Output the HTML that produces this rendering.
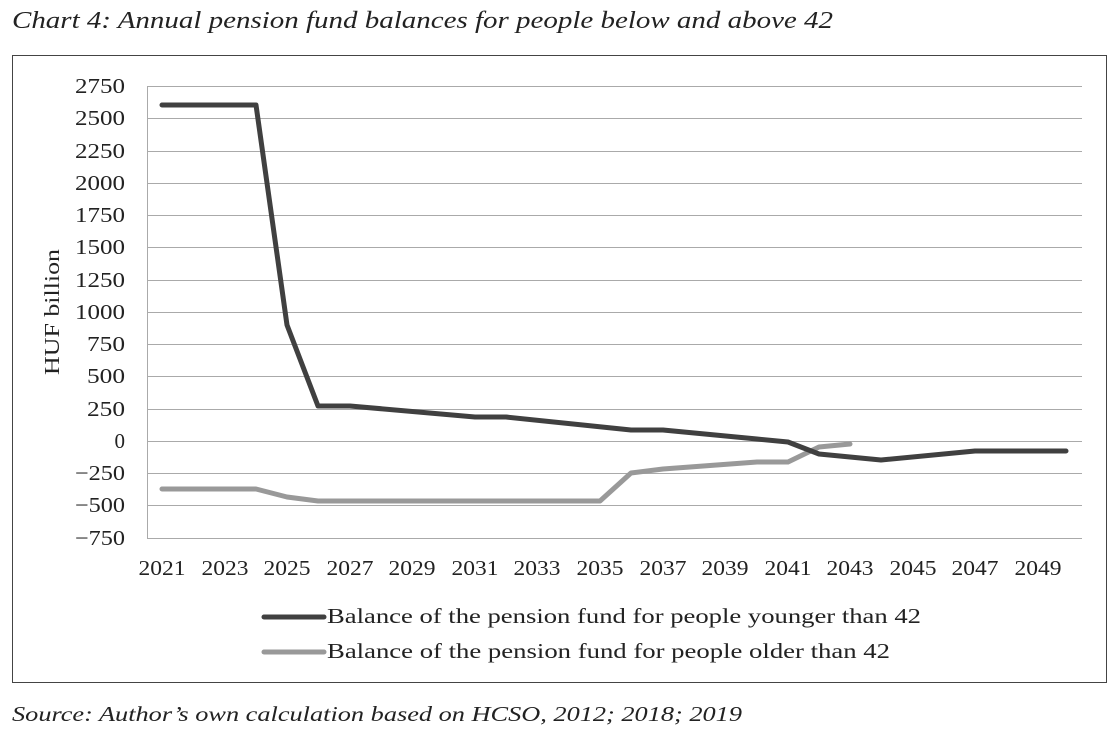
<!DOCTYPE html>
<html><head><style>
body{margin:0;background:#fff;width:1120px;height:744px;overflow:hidden}
svg{font-family:"Liberation Serif",serif}
</style></head><body>
<svg width="1120" height="744" xmlns="http://www.w3.org/2000/svg">
<text x="12" y="28" font-size="24" font-style="italic" fill="#222" textLength="821" lengthAdjust="spacingAndGlyphs">Chart 4: Annual pension fund balances for people below and above 42</text>
<rect x="12.5" y="55.5" width="1094" height="627" fill="none" stroke="#444" stroke-width="1"/>
<g stroke="#aaa" stroke-width="1">
<line x1="147" y1="86.5" x2="1082" y2="86.5"/><line x1="147" y1="118.5" x2="1082" y2="118.5"/><line x1="147" y1="151.5" x2="1082" y2="151.5"/><line x1="147" y1="183.5" x2="1082" y2="183.5"/><line x1="147" y1="215.5" x2="1082" y2="215.5"/><line x1="147" y1="247.5" x2="1082" y2="247.5"/><line x1="147" y1="280.5" x2="1082" y2="280.5"/><line x1="147" y1="312.5" x2="1082" y2="312.5"/><line x1="147" y1="344.5" x2="1082" y2="344.5"/><line x1="147" y1="376.5" x2="1082" y2="376.5"/><line x1="147" y1="409.5" x2="1082" y2="409.5"/><line x1="147" y1="441.5" x2="1082" y2="441.5"/><line x1="147" y1="473.5" x2="1082" y2="473.5"/><line x1="147" y1="505.5" x2="1082" y2="505.5"/><line x1="147" y1="538.5" x2="1082" y2="538.5"/>
<line x1="147.5" y1="86" x2="147.5" y2="538"/>
</g>
<g font-size="21" fill="#222" text-anchor="end">
<text x="125" y="93" textLength="50" lengthAdjust="spacingAndGlyphs">2750</text><text x="125" y="125" textLength="50" lengthAdjust="spacingAndGlyphs">2500</text><text x="125" y="158" textLength="50" lengthAdjust="spacingAndGlyphs">2250</text><text x="125" y="190" textLength="50" lengthAdjust="spacingAndGlyphs">2000</text><text x="125" y="222" textLength="50" lengthAdjust="spacingAndGlyphs">1750</text><text x="125" y="254" textLength="50" lengthAdjust="spacingAndGlyphs">1500</text><text x="125" y="287" textLength="50" lengthAdjust="spacingAndGlyphs">1250</text><text x="125" y="319" textLength="50" lengthAdjust="spacingAndGlyphs">1000</text><text x="125" y="351" textLength="38" lengthAdjust="spacingAndGlyphs">750</text><text x="125" y="383" textLength="38" lengthAdjust="spacingAndGlyphs">500</text><text x="125" y="416" textLength="38" lengthAdjust="spacingAndGlyphs">250</text><text x="125" y="448">0</text><text x="125" y="480" textLength="50" lengthAdjust="spacingAndGlyphs">−250</text><text x="125" y="512" textLength="50" lengthAdjust="spacingAndGlyphs">−500</text><text x="125" y="545" textLength="50" lengthAdjust="spacingAndGlyphs">−750</text>
</g>
<text transform="translate(59,312) rotate(-90)" font-size="21" fill="#222" text-anchor="middle" textLength="126" lengthAdjust="spacingAndGlyphs">HUF billion</text>
<g font-size="21" fill="#222" text-anchor="middle">
<text x="162" y="575" textLength="47" lengthAdjust="spacingAndGlyphs">2021</text><text x="225" y="575" textLength="47" lengthAdjust="spacingAndGlyphs">2023</text><text x="287" y="575" textLength="47" lengthAdjust="spacingAndGlyphs">2025</text><text x="350" y="575" textLength="47" lengthAdjust="spacingAndGlyphs">2027</text><text x="412" y="575" textLength="47" lengthAdjust="spacingAndGlyphs">2029</text><text x="475" y="575" textLength="47" lengthAdjust="spacingAndGlyphs">2031</text><text x="537" y="575" textLength="47" lengthAdjust="spacingAndGlyphs">2033</text><text x="600" y="575" textLength="47" lengthAdjust="spacingAndGlyphs">2035</text><text x="663" y="575" textLength="47" lengthAdjust="spacingAndGlyphs">2037</text><text x="725" y="575" textLength="47" lengthAdjust="spacingAndGlyphs">2039</text><text x="788" y="575" textLength="47" lengthAdjust="spacingAndGlyphs">2041</text><text x="850" y="575" textLength="47" lengthAdjust="spacingAndGlyphs">2043</text><text x="913" y="575" textLength="47" lengthAdjust="spacingAndGlyphs">2045</text><text x="975" y="575" textLength="47" lengthAdjust="spacingAndGlyphs">2047</text><text x="1038" y="575" textLength="47" lengthAdjust="spacingAndGlyphs">2049</text>
</g>
<polyline fill="none" stroke="#999" stroke-width="5" stroke-linecap="round" stroke-linejoin="round" points="162,489 256,489 287,497 318,501 600,501 631,473 663,469 757,462 788,462 819,447 850,444"/>
<polyline fill="none" stroke="#404040" stroke-width="5" stroke-linecap="round" stroke-linejoin="round" points="162,105 256,105 287,325 318,406 350,406 475,417 506,417 631,430 663,430 757,439 788,442 819,454 881,460 975,451 1066,451"/>
<line x1="264" y1="617" x2="324" y2="617" stroke="#404040" stroke-width="5" stroke-linecap="round"/>
<line x1="264" y1="652" x2="324" y2="652" stroke="#999" stroke-width="5" stroke-linecap="round"/>
<g font-size="21" fill="#222">
<text x="327" y="623" textLength="594" lengthAdjust="spacingAndGlyphs">Balance of the pension fund for people younger than 42</text>
<text x="327" y="658" textLength="563" lengthAdjust="spacingAndGlyphs">Balance of the pension fund for people older than 42</text>
</g>
<text x="12" y="721" font-size="21" font-style="italic" fill="#222" textLength="730" lengthAdjust="spacingAndGlyphs">Source: Author’s own calculation based on HCSO, 2012; 2018; 2019</text>
</svg>
</body></html>
